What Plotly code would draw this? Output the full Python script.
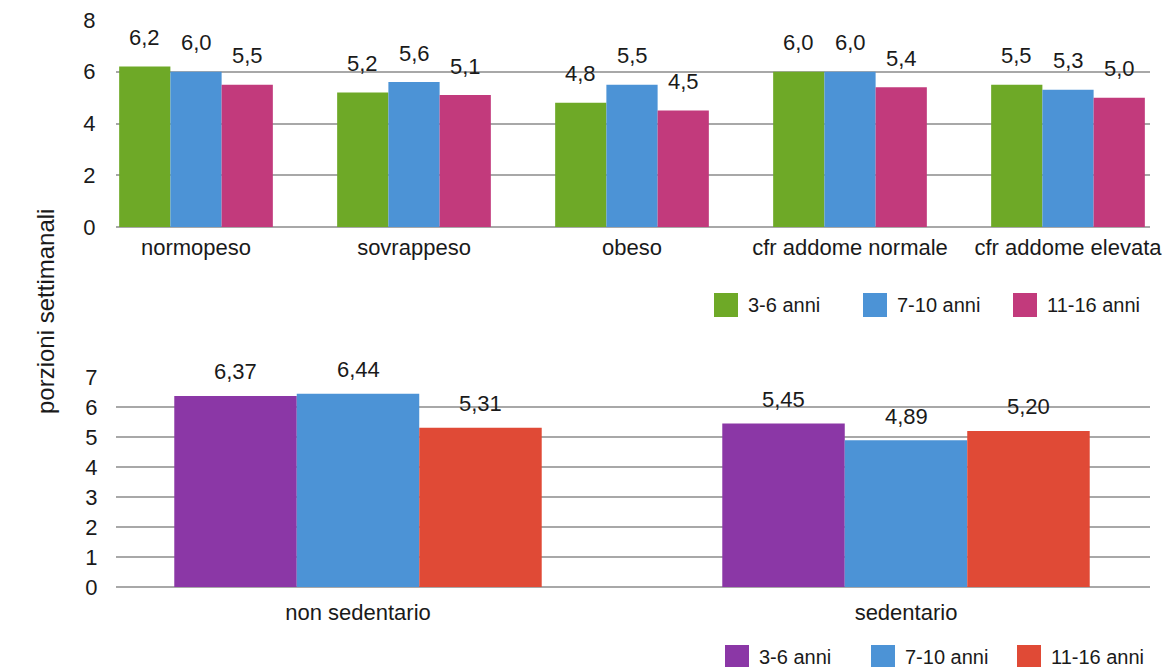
import plotly.graph_objects as go

W, H = 1169, 667

# --- data -------------------------------------------------------------
cat_top = ["normopeso", "sovrappeso", "obeso", "cfr addome normale", "cfr addome elevata"]
age_groups = ["3-6 anni", "7-10 anni", "11-16 anni"]
top_3_6 = [6.2, 5.2, 4.8, 6.0, 5.5]
top_7_10 = [6.0, 5.6, 5.5, 6.0, 5.3]
top_11_16 = [5.5, 5.1, 4.5, 5.4, 5.0]

cat_bottom = ["non sedentario", "sedentario"]
bot_3_6 = [6.37, 5.45]
bot_7_10 = [6.44, 4.89]
bot_11_16 = [5.31, 5.20]

top_colors = ["#6ea927", "#4c93d6", "#c23a7c"]
bot_colors = ["#8b37a6", "#4c93d6", "#e04a36"]

FONT = "Liberation Sans, Arial, sans-serif"
TXT = "#1a1a1a"
GRID = "#a8a8a8"


def px(x):
    return x / W


def py(y):
    return 1 - y / H


def lbl(v, d):
    return f"{v:.{d}f}".replace(".", ",")


fig = go.Figure()


def add_group(series, colors, width, xa, ya, decimals, shift):
    n = len(series)
    for i, (name, vals, col) in enumerate(zip(age_groups, series, colors)):
        off = -n * width / 2 + i * width
        xs = list(range(len(vals)))
        fig.add_trace(go.Bar(
            x=xs, y=vals, name=name, width=width, offset=off,
            marker=dict(color=col, line=dict(width=0)),
            showlegend=False, xaxis=xa, yaxis=ya,
        ))
        # value labels above each bar
        for x, v in zip(xs, vals):
            fig.add_annotation(
                x=x + off + width / 2, y=v, xref=xa, yref=ya,
                text=lbl(v, decimals), showarrow=False,
                xanchor="center", yanchor="middle", yshift=shift,
                font=dict(size=22, color=TXT, family=FONT),
            )


add_group([top_3_6, top_7_10, top_11_16], top_colors, 0.235, "x", "y", 1, 29)
add_group([bot_3_6, bot_7_10, bot_11_16], bot_colors, 0.2235, "x2", "y2", 2, 24)

L, R = 116, 1150
xdom = [px(L), px(R)]
# category spacing in pixels
u_top = 218.0
c0_top = 196.0
u_bot = 548.0
c0_bot = 358.0

fig.update_layout(
    width=W, height=H,
    margin=dict(l=0, r=0, t=0, b=0, autoexpand=False),
    paper_bgcolor="white", plot_bgcolor="white",
    font=dict(family=FONT, size=22, color=TXT),
    barmode="overlay",
    xaxis=dict(
        domain=xdom, range=[(L - c0_top) / u_top, (R - c0_top) / u_top],
        tickvals=list(range(len(cat_top))), ticktext=cat_top,
        ticks="outside", ticklen=1, tickcolor="rgba(0,0,0,0)",
        showgrid=False, zeroline=False, showline=False,
        tickfont=dict(size=22, color=TXT), anchor="y",
        automargin=False,
    ),
    yaxis=dict(
        domain=[py(227), py(20)], range=[0, 8], dtick=2,
        showgrid=True, gridcolor=GRID, gridwidth=2,
        zeroline=True, zerolinecolor=GRID, zerolinewidth=2,
        ticks="outside", ticklen=15, tickcolor="rgba(0,0,0,0)",
        tickfont=dict(size=22, color=TXT), anchor="x",
        automargin=False,
    ),
    xaxis2=dict(
        domain=xdom, range=[(L - c0_bot) / u_bot, (R - c0_bot) / u_bot],
        tickvals=list(range(len(cat_bottom))), ticktext=cat_bottom,
        ticks="outside", ticklen=6, tickcolor="rgba(0,0,0,0)",
        showgrid=False, zeroline=False, showline=False,
        tickfont=dict(size=22, color=TXT), anchor="y2",
        automargin=False,
    ),
    yaxis2=dict(
        domain=[py(587), py(377)], range=[0, 7], dtick=1,
        showgrid=True, gridcolor=GRID, gridwidth=2,
        zeroline=True, zerolinecolor=GRID, zerolinewidth=2,
        ticks="outside", ticklen=13, tickcolor="rgba(0,0,0,0)",
        tickfont=dict(size=22, color=TXT), anchor="x2",
        automargin=False,
    ),
)

# shared vertical axis title
fig.add_annotation(
    x=px(45), y=py(312), xref="paper", yref="paper",
    text="porzioni settimanali", textangle=-90, showarrow=False,
    font=dict(size=24, color=TXT, family=FONT),
    xanchor="center", yanchor="middle",
)


# legends drawn as swatches with labels
def legend_row(xs, y_top, size, colors):
    for x0, col, name in zip(xs, colors, age_groups):
        fig.add_shape(
            type="rect", xref="paper", yref="paper",
            x0=px(x0), x1=px(x0 + size), y0=py(y_top + size), y1=py(y_top),
            fillcolor=col, line=dict(width=0),
        )
        fig.add_annotation(
            x=px(x0 + size + 8), y=py(y_top + size / 2), xref="paper", yref="paper",
            text=name, showarrow=False, xanchor="left", yanchor="middle",
            font=dict(size=20, color=TXT, family=FONT),
        )


legend_row([714, 863, 1013], 293, 24, top_colors)
legend_row([725, 871, 1017], 645, 24, bot_colors)

fig.write_html("out.html")
